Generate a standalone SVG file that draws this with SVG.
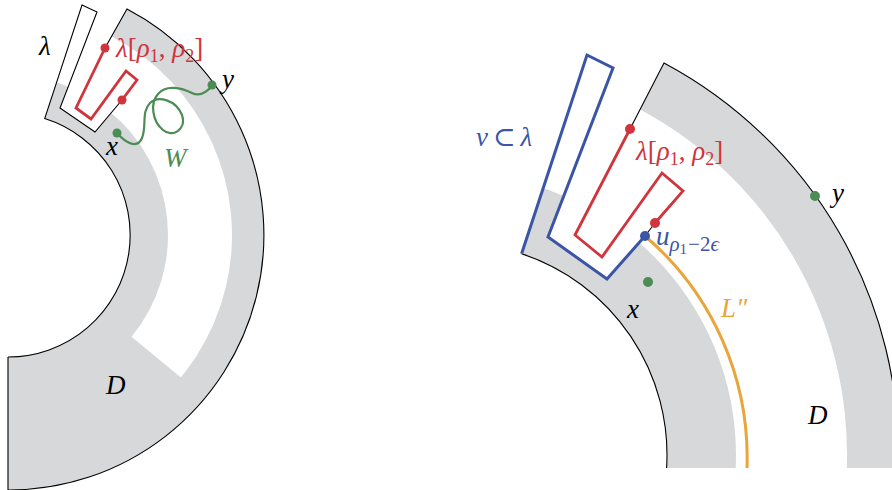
<svg xmlns="http://www.w3.org/2000/svg" width="892" height="490" viewBox="0 0 892 490">
<style>
.bd{fill:none;stroke:#000;stroke-width:1.1;stroke-linejoin:miter}
.gray{fill:#d7d8da}
.red{fill:none;stroke:#d0343c;stroke-width:2.8;stroke-linejoin:miter}
.blue{fill:none;stroke:#3a55a5;stroke-width:3;stroke-linejoin:miter}
.grn{fill:none;stroke:#4c8c55;stroke-width:2.2}
.org{fill:none;stroke:#e9a43a;stroke-width:3}
.dr{fill:#d0343c}.db{fill:#3a55a5}.dg{fill:#4c8c55}
text{font-family:"Liberation Serif","DejaVu Serif",serif;font-size:27px}
.i{font-style:italic}
.tr{fill:#d0343c}.tb{fill:#3a55a5}.tg{fill:#4c8c55}.to{fill:#e9a43a}.tk{fill:#000}
</style>
<defs>
<clipPath id="cl"><path d="M8,357 A122,122 0 0 0 44.7,118.6 L82,5 L97,12 L60,108 L95,132 L122,100 L137,80 L126,71 L105,48 L127,9 A255,255 0 0 1 8,490 Z"/></clipPath>
<clipPath id="cr"><path d="M666.6,468 A212,212 0 0 0 521.6,253.7 L587,55 L613,68 L548,237 L607,279 L645,236 L655,223 L683,191 L662,173 L630,129 L664,63 A443.5,443.5 0 0 1 898.3,468 Z"/></clipPath>
</defs>

<g id="left-domain">
<g clip-path="url(#cl)">
<circle class="gray" cx="8" cy="235" r="160"/>
<path class="gray" d="M8,235 L239.5,425.8 L8,700 Z"/>
<path class="gray" d="M127,9 A255,255 0 0 1 8,490 L8,459 A224,224 0 0 0 111.6,36.4 Z"/>
</g>
<path class="bd" d="M8,357 A122,122 0 0 0 44.7,118.6 L82,5 L97,12 L60,108 L95,132 L122,100"/>
<path class="bd" d="M105,48 L127,9 A255,255 0 0 1 8,490 L8,357"/>
</g>

<g id="right-domain">
<g clip-path="url(#cr)">
<circle class="gray" cx="455" cy="455" r="281"/>
<path class="gray" d="M664,63 A443.5,443.5 0 0 1 898.3,468 L846.8,468 A392,392 0 0 0 640.1,109.4 Z"/>
</g>
<path class="bd" d="M666.6,468 A212,212 0 0 0 521.6,253.7"/>
<path class="bd" d="M630,129 L664,63 A443.5,443.5 0 0 1 898.3,468"/>
<path class="bd" d="M655,223 L645,236"/>
</g>

<g id="connectors">
<path id="lambda-left" class="red" d="M122,100 L137,80 L126,71 L91,119 L76,108 L105,48"/>
<path id="W" class="grn" d="M117,133 C125,142 137,150 142,138 C147,126 141,112 150,103 C158,95 176,100 182,115 C187,130 172,138 163,130 C152,121 150,103 158,94 C166,84 182,88 192,93 C200,97 207,92 213,85"/>
<path id="nu" class="blue" d="M521.6,253.7 L587,55 L613,68 L548,237 L607,279 L645,236"/>
<path id="lambda-right" class="red" d="M655,223 L683,191 L662,173 L602,257 L575,235 L630,129"/>
<path id="Lpp" class="org" d="M645,236 A292,292 0 0 1 747,468"/>
</g>

<g id="left-points">
<circle class="dr" cx="105" cy="48" r="4.5"/>
<circle class="dr" cx="122" cy="100" r="4.5"/>
<circle class="dg" cx="117" cy="133" r="4.5"/>
<circle class="dg" cx="212" cy="85" r="4.5"/>
</g>
<g id="right-points">
<circle class="dr" cx="630" cy="129" r="5"/>
<circle class="dr" cx="655" cy="223" r="5"/>
<circle class="db" cx="645" cy="236" r="5"/>
<circle class="dg" cx="815" cy="196" r="5"/>
<circle class="dg" cx="648" cy="282" r="5"/>
</g>

<g id="left-labels">
<text x="39" y="55" class="i tk">λ</text>
<text x="116" y="57" class="tr"><tspan class="i">λ</tspan>[<tspan class="i">ρ</tspan><tspan font-size="18" dy="5">1</tspan><tspan dy="-5">, </tspan><tspan class="i">ρ</tspan><tspan font-size="18" dy="5">2</tspan><tspan dy="-5">]</tspan></text>
<text x="222" y="88" class="i tk">y</text>
<text x="106" y="155" class="i tk">x</text>
<text x="164" y="167" class="i tg">W</text>
<text x="106" y="394" class="i tk">D</text>
</g>
<g id="right-labels">
<text x="476" y="146" class="tb"><tspan class="i">ν</tspan><tspan dx="5">⊂</tspan><tspan dx="5" class="i">λ</tspan></text>
<text x="636" y="160" class="tr"><tspan class="i">λ</tspan>[<tspan class="i">ρ</tspan><tspan font-size="18" dy="5">1</tspan><tspan dy="-5">, </tspan><tspan class="i">ρ</tspan><tspan font-size="18" dy="5">2</tspan><tspan dy="-5">]</tspan></text>
<text x="832" y="202" class="i tk">y</text>
<text x="627" y="318" class="i tk">x</text>
<text x="721" y="317" class="i to">L″</text>
<text x="808" y="424" class="i tk">D</text>
<text x="656" y="245" class="tb"><tspan class="i">u</tspan><tspan font-size="21" dy="6"><tspan class="i">ρ</tspan><tspan font-size="15" dy="3">1</tspan><tspan dy="-3" dx="1">−2</tspan><tspan class="i">ϵ</tspan></tspan></text>
</g>
</svg>
